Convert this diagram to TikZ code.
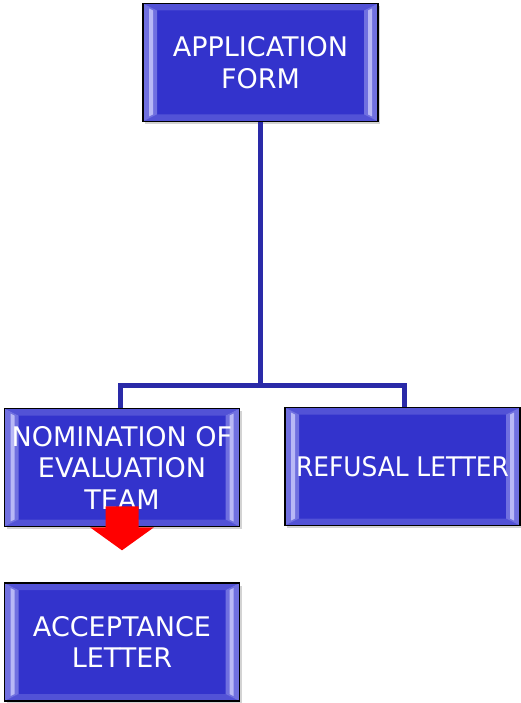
\documentclass[tikz,border=0pt]{standalone}
\usepackage{fontspec}
\setmainfont{DejaVu Sans}
\newfontfamily\narrowfont{DejaVu Sans}[FakeStretch=0.92]
\usetikzlibrary{calc,shadows}
\definecolor{boxblue}{HTML}{3333CC}
\definecolor{bevlight}{HTML}{B8B8F6}
\definecolor{bevmid}{HTML}{7070E0}
\definecolor{bevtop}{HTML}{5252D6}
\definecolor{linkblue}{HTML}{2A2AA8}
\definecolor{arrowred}{HTML}{FF0000}
\tikzset{
  x=1pt,y=1pt,
  bevelbox/.style={draw=black, line width=1.6pt, fill=boxblue,
    minimum width=235pt, minimum height=118pt, inner sep=1pt,
    text=white, align=center, font=\fontsize{27}{31.5}\selectfont,
    drop shadow={opacity=0.35, shadow xshift=2pt, shadow yshift=-2.5pt},
    path picture={
      \coordinate (sw) at (path picture bounding box.south west);
      \coordinate (ne) at (path picture bounding box.north east);
      \coordinate (nw) at (sw|-ne);
      \coordinate (se) at (ne|-sw);
      \fill[bevtop] (nw) -- (ne) -- ($(ne)+(-14,-7)$) -- ($(nw)+(14,-7)$) -- cycle;
      \fill[bevtop] (sw) -- (se) -- ($(se)+(-14,7)$) -- ($(sw)+(14,7)$) -- cycle;
      \fill[bevmid] (sw) -- (nw) -- ($(nw)+(14,-7)$) -- ($(sw)+(14,7)$) -- cycle;
      \fill[bevmid] (se) -- (ne) -- ($(ne)+(-14,-7)$) -- ($(se)+(-14,7)$) -- cycle;
      \fill[bevlight] ($(sw)+(6,5)$) -- ($(nw)+(6,-5)$) -- ($(nw)+(10,-7)$) -- ($(sw)+(10,7)$) -- cycle;
      \fill[bevlight] ($(se)+(-6,5)$) -- ($(ne)+(-6,-5)$) -- ($(ne)+(-10,-7)$) -- ($(se)+(-10,7)$) -- cycle;
    }},
  link/.style={draw=linkblue, line width=5pt},
  blockarrow/.style={fill=arrowred, draw=none}
}
\begin{document}
\begin{tikzpicture}
\useasboundingbox (0,0) rectangle (520,-703);
\node[bevelbox] (app) at (260.5,-62.5) {APPLICATION\\FORM};
\node[bevelbox] (nom) at (122,-467.5) {NOMINATION OF\\EVALUATION\\TEAM};
\node[bevelbox, font=\fontsize{27}{31.5}\narrowfont] (ref) at (402.5,-466.5) {REFUSAL LETTER};
\node[bevelbox] (acc) at (122,-642) {ACCEPTANCE\\LETTER};
\coordinate (j) at (260.5,-385);
\draw[link] (app.south) -- (j);
\draw[link] ($(nom.north)+(-2,0)$) |- (j) -| ($(ref.north)+(2,0)$);
\fill[blockarrow] ($(nom.south)+(-16.5,21)$) -- ($(nom.south)+(16.5,21)$)
  -- ($(nom.south)+(16.5,0)$) -- ($(nom.south)+(32,0)$)
  -- ($(nom.south)+(0,-23)$) -- ($(nom.south)+(-32,0)$)
  -- ($(nom.south)+(-16.5,0)$) -- cycle;
\end{tikzpicture}
\end{document}
